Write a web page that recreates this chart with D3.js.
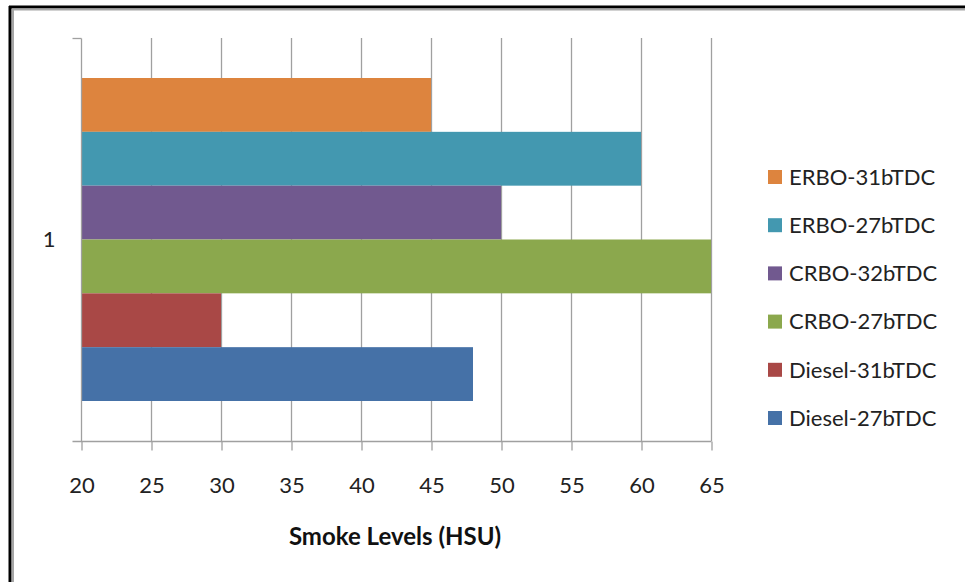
<!DOCTYPE html>
<html>
<head>
<meta charset="utf-8">
<script src="https://cdn.jsdelivr.net/npm/d3@7"></script>
<style>
  html, body { margin: 0; padding: 0; background: #fff; }
  svg { display: block; font-family: Lato, "Open Sans", sans-serif; }
</style>
</head>
<body>
<svg id="chart" width="965" height="582"></svg>
<script>
// Series drawn top to bottom inside the single category
const seriesNames = ["ERBO-31bTDC", "ERBO-27bTDC", "CRBO-32bTDC", "CRBO-27bTDC", "Diesel-31bTDC", "Diesel-27bTDC"];
const seriesValues = [45, 60, 50, 65, 30, 48];
const seriesColors = ["#dd843e", "#4398b0", "#71598f", "#8ba84d", "#a94846", "#4571a7"];
const categories = ["1"];
const xTicks = [20, 25, 30, 35, 40, 45, 50, 55, 60, 65];
const xTitle = "Smoke Levels (HSU)";

const svg = d3.select("#chart");

// Frame: thick dark line with a grey inner line along top and left
svg.append("rect").attr("x", 0).attr("y", 0).attr("width", 965).attr("height", 582).attr("fill", "#fff");
svg.append("line").attr("x1", 9).attr("x2", 965).attr("y1", 7).attr("y2", 7).attr("stroke", "#000").attr("stroke-width", 3);
svg.append("line").attr("x1", 10).attr("x2", 10).attr("y1", 6).attr("y2", 582).attr("stroke", "#000").attr("stroke-width", 3);
svg.append("line").attr("x1", 12).attr("x2", 965).attr("y1", 9.5).attr("y2", 9.5).attr("stroke", "#a6a6a6").attr("stroke-width", 2);
svg.append("line").attr("x1", 13).attr("x2", 13).attr("y1", 9).attr("y2", 582).attr("stroke", "#a6a6a6").attr("stroke-width", 2);

const plot = { left: 81, right: 711, top: 38, bottom: 441 };

const x = d3.scaleLinear().domain([20, 65]).range([plot.left, plot.right]);
const yCat = d3.scaleBand().domain(categories).range([plot.top, plot.bottom]).paddingInner(0).paddingOuter(0);
const yInner = d3.scaleBand().domain(seriesNames)
  .range([yCat("1") + 40, yCat("1") + yCat.bandwidth() - 40]);

// Vertical gridlines
svg.append("g").selectAll("line").data(xTicks.slice(1)).join("line")
  .attr("x1", d => x(d) + 0.5).attr("x2", d => x(d) + 0.5)
  .attr("y1", plot.top).attr("y2", plot.bottom)
  .attr("stroke", "#a0a0a0").attr("stroke-width", 1.3);

// Bars
svg.append("g").selectAll("rect").data(seriesNames).join("rect")
  .attr("x", x(20))
  .attr("y", d => yInner(d))
  .attr("width", (d, i) => x(seriesValues[i]) - x(20))
  .attr("height", yInner.bandwidth())
  .attr("fill", (d, i) => seriesColors[i]);

// Bottom axis
const xAxis = svg.append("g").attr("transform", `translate(0.5,${plot.bottom + 0.5})`)
  .call(d3.axisBottom(x).tickValues(xTicks).tickSize(9).tickPadding(27).tickSizeOuter(0));
xAxis.select(".domain").remove();
xAxis.append("line").attr("x1", plot.left - 9).attr("x2", plot.right).attr("y1", 0).attr("y2", 0)
  .attr("stroke", "#a0a0a0").attr("stroke-width", 1.3);
xAxis.selectAll(".tick line").attr("stroke", "#a0a0a0").attr("stroke-width", 1.3);
xAxis.selectAll(".tick text").attr("fill", "#222").style("font-size", "22px").style("font-family", "Lato, sans-serif");

// Left axis (category)
const yAxis = svg.append("g").attr("transform", `translate(${plot.left + 0.5},0.5)`)
  .call(d3.axisLeft(yCat).tickSize(0).tickPadding(26));
yAxis.select(".domain").remove();
yAxis.append("line").attr("x1", 0).attr("x2", 0).attr("y1", plot.top).attr("y2", plot.bottom)
  .attr("stroke", "#a0a0a0").attr("stroke-width", 1.3);
yAxis.append("line").attr("x1", -9).attr("x2", 0).attr("y1", plot.top).attr("y2", plot.top)
  .attr("stroke", "#a0a0a0").attr("stroke-width", 1.3);
yAxis.selectAll(".tick text").attr("fill", "#222").style("font-size", "22px").style("font-family", "Lato, sans-serif");

// Axis title
svg.append("text").attr("x", 395).attr("y", 545).attr("text-anchor", "middle")
  .attr("fill", "#111").style("font-size", "24px").style("font-weight", "bold")
  .text(xTitle);

// Legend
const legend = svg.append("g").attr("transform", "translate(768,0)");
const legendY = d3.scalePoint().domain(seriesNames).range([177, 418]);
const items = legend.selectAll("g").data(seriesNames).join("g")
  .attr("transform", d => `translate(0,${legendY(d)})`);
items.append("rect").attr("x", 0).attr("y", -7).attr("width", 14).attr("height", 14)
  .attr("fill", (d, i) => seriesColors[i]);
items.append("text").attr("x", 21).attr("y", 0).attr("dy", "0.35em")
  .attr("fill", "#222").style("font-size", "22px").text(d => d);
</script>
</body>
</html>
